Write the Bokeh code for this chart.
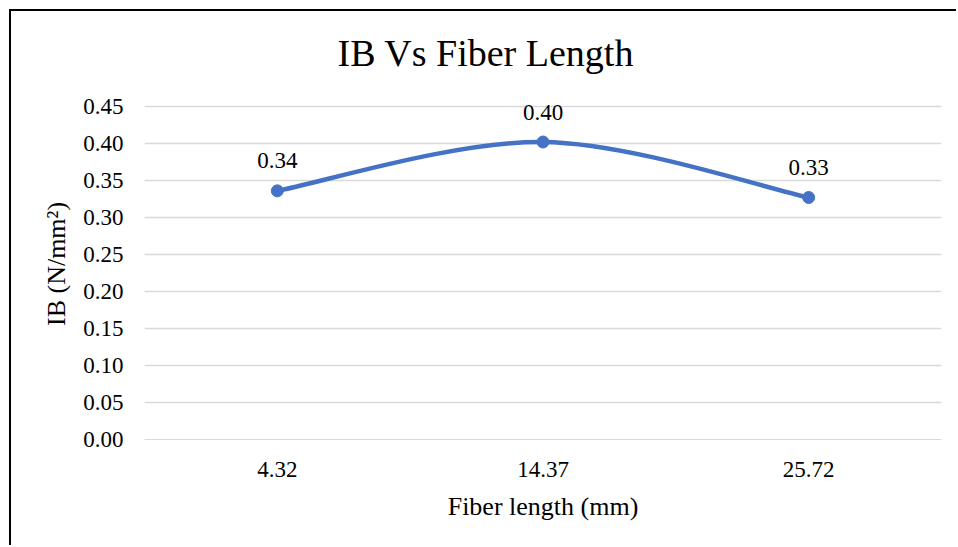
from bokeh.plotting import figure
from bokeh.models import Range1d, FixedTicker, NumeralTickFormatter, LabelSet, ColumnDataSource
from bokeh.embed import file_html
from bokeh.resources import INLINE

# ---- data ----
categories = ["4.32", "14.37", "25.72"]
ib_values = [0.336, 0.402, 0.327]
value_labels = ["0.34", "0.40", "0.33"]
y_ticks = [0.0, 0.05, 0.10, 0.15, 0.20, 0.25, 0.30, 0.35, 0.40, 0.45]

FONT = "Liberation Serif"
BLUE = "#4472C4"
GRID = "#D9D9D9"

xs = [i + 0.5 for i in range(len(categories))]

p = figure(width=947, height=536, output_backend="svg", toolbar_location=None,
           x_range=Range1d(0, len(categories)), y_range=Range1d(0, 0.4743),
           min_border_left=133, min_border_right=17, min_border_top=77, min_border_bottom=108)
p.margin = (9, 0, 0, 9)
p.styles = {"border-top": "2px solid #000", "border-left": "2px solid #000"}
p.outline_line_color = None
p.background_fill_color = "white"
p.border_fill_color = "white"

# title
p.title.text = "IB Vs Fiber Length"
p.title.text_font = FONT
p.title.text_font_size = "38px"
p.title.text_font_style = "normal"
p.title.text_color = "#000000"
p.title.align = "left"
p.title.offset = 193
p.title.standoff = 30

# smooth line (Catmull-Rom style Bezier segments, as in a smoothed spreadsheet line)
n = len(xs)
x0s, y0s, x1s, y1s, cx0s, cy0s, cx1s, cy1s = [], [], [], [], [], [], [], []
for i in range(n - 1):
    xp, yp = (xs[i - 1], ib_values[i - 1]) if i > 0 else (xs[i], ib_values[i])
    xn, yn = (xs[i + 2], ib_values[i + 2]) if i + 2 < n else (xs[i + 1], ib_values[i + 1])
    x0s.append(xs[i]); y0s.append(ib_values[i])
    x1s.append(xs[i + 1]); y1s.append(ib_values[i + 1])
    cx0s.append(xs[i] + (xs[i + 1] - xp) / 6); cy0s.append(ib_values[i] + (ib_values[i + 1] - yp) / 6)
    cx1s.append(xs[i + 1] - (xn - xs[i]) / 6); cy1s.append(ib_values[i + 1] - (yn - ib_values[i]) / 6)
p.bezier(x0=x0s, y0=y0s, x1=x1s, y1=y1s, cx0=cx0s, cy0=cy0s, cx1=cx1s, cy1=cy1s,
         line_color=BLUE, line_width=4.5)
p.scatter(xs, ib_values, size=12, fill_color=BLUE, line_color=BLUE)

src = ColumnDataSource(dict(x=xs, y=ib_values, t=value_labels))
labels = LabelSet(x="x", y="y", text="t", source=src, text_font=FONT, text_font_size="23px",
                  text_align="center", text_baseline="middle", y_offset=30, text_color="#000000")
p.add_layout(labels)

# axes
p.xaxis.ticker = FixedTicker(ticks=xs)
p.xaxis.major_label_overrides = {x: c for x, c in zip(xs, categories)}
p.yaxis.ticker = FixedTicker(ticks=y_ticks)
p.yaxis.formatter = NumeralTickFormatter(format="0.00")
p.xaxis.axis_label = "Fiber length (mm)"
p.yaxis.axis_label = "IB (N/mm²)"
for ax in (p.xaxis, p.yaxis):
    ax.major_tick_line_color = None
    ax.minor_tick_line_color = None
    ax.major_tick_out = 0
    ax.major_tick_in = 0
    ax.minor_tick_out = 0
    ax.minor_tick_in = 0
    ax.major_label_text_font = FONT
    ax.major_label_text_font_size = "23px"
    ax.major_label_text_color = "#000000"
    ax.axis_label_text_font = FONT
    ax.axis_label_text_font_size = "26px"
    ax.axis_label_text_font_style = "normal"
    ax.axis_label_text_color = "#000000"
p.yaxis.axis_line_color = None
p.xaxis.axis_line_color = GRID
p.yaxis.major_label_standoff = 21
p.xaxis.major_label_standoff = 22
p.yaxis.axis_label_standoff = 9
p.xaxis.axis_label_standoff = 12

p.xgrid.grid_line_color = None
p.ygrid.grid_line_color = GRID
p.ygrid.grid_line_width = 1.5

open("out.html", "w").write(file_html(p, INLINE))
